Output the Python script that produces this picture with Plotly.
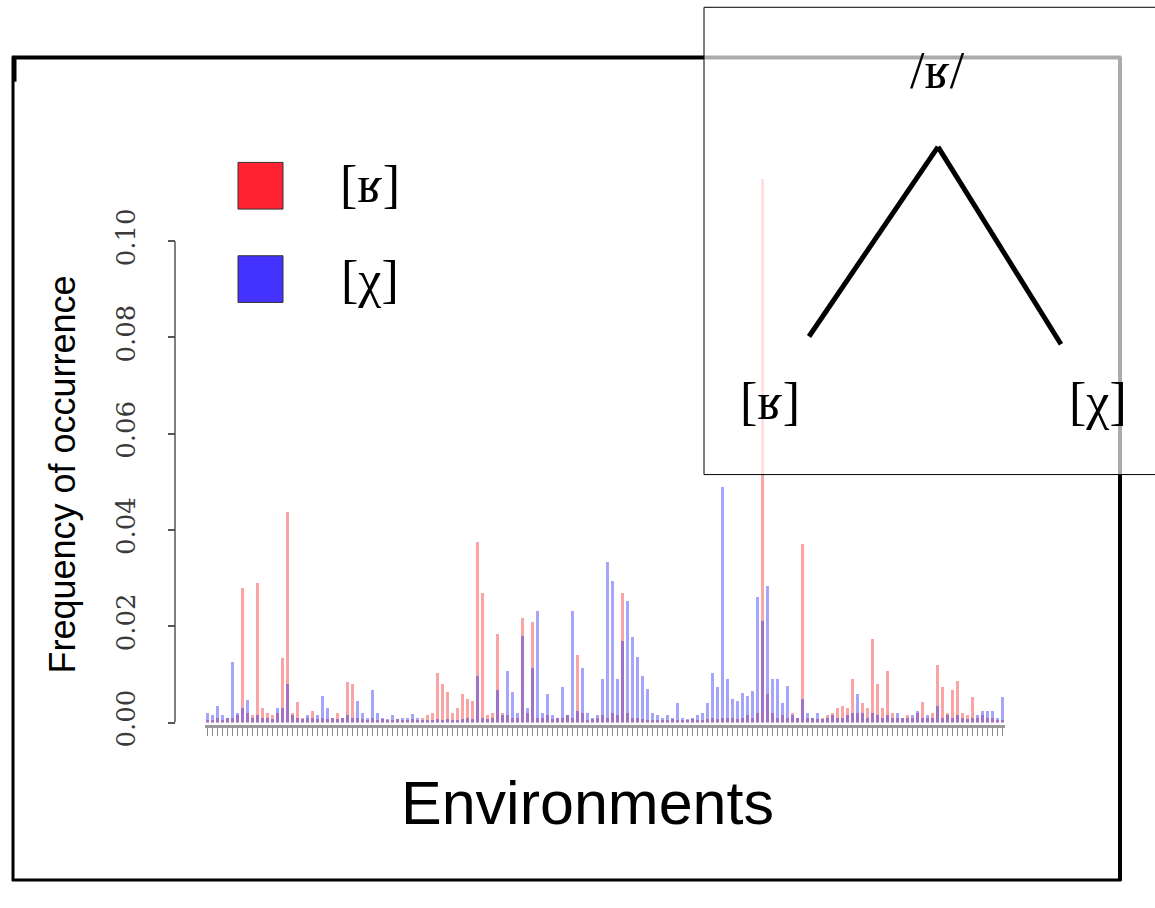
import plotly.graph_objects as go

W, H = 1155, 908

# ---- data ----
categories = list(range(160))

red_freq = [
    0.0005, 0.0005, 0.001, 0.0005, 0.001, 0.001, 0.0015, 0.028, 0.002, 0.0015,
    0.029, 0.003, 0.002, 0.0015, 0.002, 0.0134, 0.0438, 0.002, 0.0043, 0.001,
    0.001, 0.0025, 0.0008, 0.001, 0.0008, 0.001, 0.002, 0.001, 0.0085, 0.008,
    0.001, 0.0008, 0.0005, 0.001, 0.0005, 0.0008, 0.0005, 0.0005, 0.0008, 0.0005,
    0.0005, 0.0008, 0.0005, 0.001, 0.0015, 0.002, 0.0103, 0.008, 0.0063, 0.002,
    0.003, 0.006, 0.005, 0.0045, 0.0376, 0.0269, 0.0015, 0.002, 0.0184, 0.002,
    0.0015, 0.001, 0.001, 0.0218, 0.002, 0.0208, 0.001, 0.001, 0.0015, 0.0008,
    0.001, 0.001, 0.0015, 0.001, 0.0141, 0.002, 0.0005, 0.0008, 0.001, 0.0015,
    0.001, 0.002, 0.0015, 0.0269, 0.002, 0.001, 0.001, 0.0008, 0.0005, 0.0005,
    0.0005, 0.0005, 0.0005, 0.0008, 0.0005, 0.0005, 0.0005, 0.0008, 0.0005, 0.0005,
    0.0008, 0.001, 0.0008, 0.001, 0.001, 0.001, 0.0008, 0.001, 0.0015, 0.001,
    0.002, 0.113, 0.006, 0.002, 0.001, 0.0015, 0.001, 0.002, 0.001, 0.037,
    0.001, 0.001, 0.0008, 0.001, 0.0015, 0.002, 0.003, 0.0035, 0.003, 0.009,
    0.002, 0.004, 0.003, 0.0174, 0.008, 0.003, 0.0107, 0.002, 0.001, 0.001,
    0.0015, 0.001, 0.002, 0.0043, 0.001, 0.002, 0.0119, 0.0073, 0.002, 0.0067,
    0.0087, 0.002, 0.0015, 0.0053, 0.001, 0.0015, 0.001, 0.001, 0.0005, 0.0005,
]

blue_freq = [
    0.002, 0.0015, 0.0034, 0.0015, 0.001, 0.0125, 0.002, 0.003, 0.0046, 0.001,
    0.0015, 0.001, 0.001, 0.0008, 0.003, 0.003, 0.008, 0.0015, 0.001, 0.0008,
    0.0015, 0.001, 0.0015, 0.0056, 0.003, 0.001, 0.0008, 0.001, 0.0015, 0.001,
    0.0045, 0.002, 0.001, 0.0067, 0.002, 0.001, 0.0008, 0.0015, 0.0008, 0.001,
    0.001, 0.0018, 0.001, 0.0005, 0.0005, 0.0005, 0.0008, 0.0005, 0.0008, 0.0005,
    0.0005, 0.0008, 0.001, 0.0008, 0.0097, 0.001, 0.0008, 0.001, 0.0067, 0.0015,
    0.0107, 0.0063, 0.002, 0.018, 0.003, 0.0113, 0.0232, 0.002, 0.006, 0.0015,
    0.001, 0.0073, 0.0015, 0.0232, 0.0025, 0.0113, 0.002, 0.001, 0.0015, 0.009,
    0.0333, 0.0295, 0.009, 0.017, 0.0252, 0.0178, 0.0137, 0.0097, 0.007, 0.002,
    0.0015, 0.001, 0.0015, 0.001, 0.004, 0.001, 0.0008, 0.001, 0.0015, 0.002,
    0.004, 0.0103, 0.0074, 0.049, 0.009, 0.005, 0.0045, 0.0062, 0.0055, 0.0066,
    0.026, 0.021, 0.0283, 0.009, 0.009, 0.004, 0.0075, 0.0015, 0.001, 0.005,
    0.002, 0.001, 0.002, 0.0008, 0.001, 0.0015, 0.001, 0.001, 0.0015, 0.002,
    0.006, 0.002, 0.001, 0.002, 0.0015, 0.001, 0.0015, 0.001, 0.002, 0.001,
    0.001, 0.0015, 0.0025, 0.001, 0.0015, 0.001, 0.0035, 0.001, 0.0015, 0.001,
    0.0015, 0.001, 0.0008, 0.001, 0.0015, 0.0025, 0.0025, 0.0025, 0.001, 0.0053,
]

ytick_vals = [0.0, 0.02, 0.04, 0.06, 0.08, 0.10]
ytick_text = ["0.00", "0.02", "0.04", "0.06", "0.08", "0.10"]

y_title = "Frequency of occurrence"
x_title = "Environments"
legend_labels = ["[ʁ]", "[χ]"]
tree_root = "/ʁ/"
tree_leaves = ["[ʁ]", "[χ]"]


def px(x):
    return x / W


def py(y):
    return 1 - y / H


SERIF = "Liberation Serif, DejaVu Serif, serif"
DSERIF = "DejaVu Serif, serif"
SANS = "Liberation Sans, Arial, sans-serif"

fig = go.Figure()
fig.add_trace(go.Bar(x=categories, y=red_freq, width=0.45,
                     marker=dict(color="rgba(240,40,40,0.42)", line=dict(width=0))))
fig.add_trace(go.Bar(x=categories, y=blue_freq, width=0.45,
                     marker=dict(color="rgba(40,40,240,0.42)", line=dict(width=0))))

fig.update_layout(
    width=W, height=H,
    margin=dict(l=0, r=0, t=0, b=0),
    paper_bgcolor="white", plot_bgcolor="rgba(0,0,0,0)",
    barmode="overlay", bargap=0, showlegend=False,
    xaxis=dict(domain=[px(204.5), px(1004.5)], range=[-0.5, 159.5],
               anchor="free", position=py(746.5),
               showline=True, linecolor="#9a9a9a", linewidth=3,
               ticks="outside", ticklen=8, tickwidth=1, tickcolor="#8a8a8a",
               tickvals=categories, showticklabels=False,
               showgrid=False, zeroline=False),
    yaxis=dict(domain=[py(743), py(173.75)], range=[0, 0.115],
               anchor="free", position=px(175),
               showline=False, ticks="outside", ticklen=7, tickwidth=1.5,
               tickcolor="#555555",
               tickvals=ytick_vals, ticktext=ytick_text, tickangle=-90,
               ticklabelstandoff=23,
               tickfont=dict(family=DSERIF, size=26, color="#3a3a3a"),
               showgrid=False, zeroline=False),
)

shapes = []
shapes.append(dict(type="line", xref="paper", yref="y", x0=px(175), x1=px(175),
                   y0=ytick_vals[0], y1=ytick_vals[-1],
                   line=dict(color="#555555", width=1.5), layer="above"))
frame_col = "black"
shapes += [
    dict(type="line", xref="paper", yref="paper", x0=px(13), x1=px(13), y0=py(58), y1=py(906),
         line=dict(color=frame_col, width=3), layer="above"),
    dict(type="line", xref="paper", yref="paper", x0=px(14.5), x1=px(14.5), y0=py(58), y1=py(84),
         line=dict(color=frame_col, width=4), layer="above"),
    dict(type="line", xref="paper", yref="paper", x0=px(12), x1=px(1121), y0=py(59), y1=py(59),
         line=dict(color=frame_col, width=4), layer="above"),
    dict(type="line", xref="paper", yref="paper", x0=px(1120), x1=px(1120), y0=py(58), y1=py(906),
         line=dict(color=frame_col, width=4), layer="above"),
    dict(type="line", xref="paper", yref="paper", x0=px(12), x1=px(1121), y0=py(905), y1=py(905),
         line=dict(color=frame_col, width=3), layer="above"),
]
shapes += [
    dict(type="rect", xref="paper", yref="paper", x0=px(238), x1=px(283), y0=py(167), y1=py(215),
         fillcolor="#ff2233", line=dict(color="#333333", width=1), layer="above"),
    dict(type="rect", xref="paper", yref="paper", x0=px(238), x1=px(283), y0=py(263), y1=py(311),
         fillcolor="#4433ff", line=dict(color="#333333", width=1), layer="above"),
]
shapes.append(dict(type="rect", xref="paper", yref="paper", x0=px(704), x1=px(1165),
                   y0=py(7.5), y1=py(488), fillcolor="rgba(255,255,255,0.67)",
                   line=dict(color="black", width=1), layer="above"))
shapes += [
    dict(type="line", xref="paper", yref="paper", x0=px(809), x1=px(938), y0=py(346), y1=py(151),
         line=dict(color="black", width=5), layer="above"),
    dict(type="line", xref="paper", yref="paper", x0=px(938), x1=px(1061), y0=py(151), y1=py(354),
         line=dict(color="black", width=5), layer="above"),
]
fig.update_layout(shapes=shapes)


def label(text, x, y, size, family, angle=0):
    return dict(text=text, x=px(x), y=py(y), xref="paper", yref="paper",
                textangle=angle, showarrow=False, xanchor="center", yanchor="middle",
                font=dict(family=family, size=size, color="black"))


ann = [
    label(y_title, 63, 488, 36, SANS, -90),
    label(x_title, 588, 826, 61, SANS),
    label(legend_labels[0], 370, 190, 52, SERIF),
    label(legend_labels[1], 370, 287, 52, SERIF),
    label(tree_root, 937, 73, 52, SERIF),
    label(tree_leaves[0], 770, 413, 52, SERIF),
    label(tree_leaves[1], 1098, 413, 52, SERIF),
]
fig.update_layout(annotations=ann)

# remove the browser's default 8px body margin so the figure fills the window exactly
page_js = "document.body.style.margin='0';"
fig.write_html("out.html", post_script=page_js)
